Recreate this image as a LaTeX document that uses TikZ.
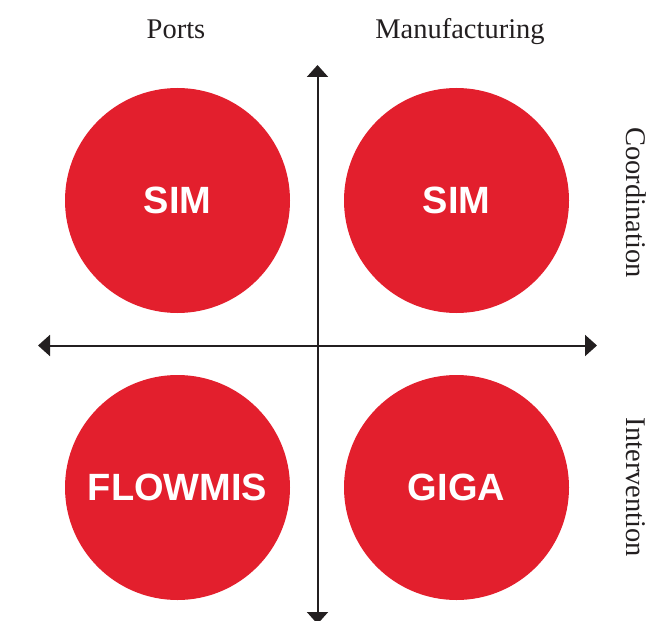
\documentclass[tikz,border=0pt]{standalone}
\usepackage{fontspec}
\setmainfont{Liberation Serif}
\newfontfamily\labelsans{Liberation Sans}
\usetikzlibrary{arrows.meta}
\definecolor{quadred}{RGB}{227,31,45}
\definecolor{axisgray}{RGB}{35,31,32}
\tikzset{
  quadrant/.style={circle, fill=quadred, minimum size=225pt, inner sep=0pt,
    text=white, font=\labelsans\bfseries\fontsize{38}{44}\selectfont},
  axisline/.style={draw=axisgray, line width=2pt,
    {Triangle[length=12pt,width=21pt]}-{Triangle[length=12pt,width=21pt]}},
  heading/.style={anchor=base, text=axisgray, inner sep=0pt,
    font=\fontsize{28.5}{34}\selectfont}
}
\begin{document}
\begin{tikzpicture}[x=1pt,y=-1pt]
  \useasboundingbox (0,0) rectangle (668,620);

  % quadrant circles
  \node[quadrant] (tl) at (177.5,200.5) {SIM};
  \node[quadrant] (tr) at (456.5,200.5) {SIM};
  \node[quadrant] (bl) at (177.5,487.5) {FLOWMIS};
  \node[quadrant] (br) at (456.5,487.5) {GIGA};

  % axes
  \coordinate (vtop) at (317.5,65);
  \coordinate (vbot) at (317.5,624);
  \coordinate (hleft) at (38,345.5);
  \coordinate (hright) at (597,345.5);
  \draw[axisline] (vtop) -- (vbot);
  \draw[axisline] (hleft) -- (hright);

  % column headings
  \node[heading] (ports) at (176,39) {Ports};
  \node[heading] (manuf) at (460,39) {Manufacturing};

  % row headings
  \node[heading, rotate=-90] (coord) at (626,202.5) {Coordination};
  \node[heading, rotate=-90] (interv) at (626,487.5) {Intervention};
\end{tikzpicture}
\end{document}
